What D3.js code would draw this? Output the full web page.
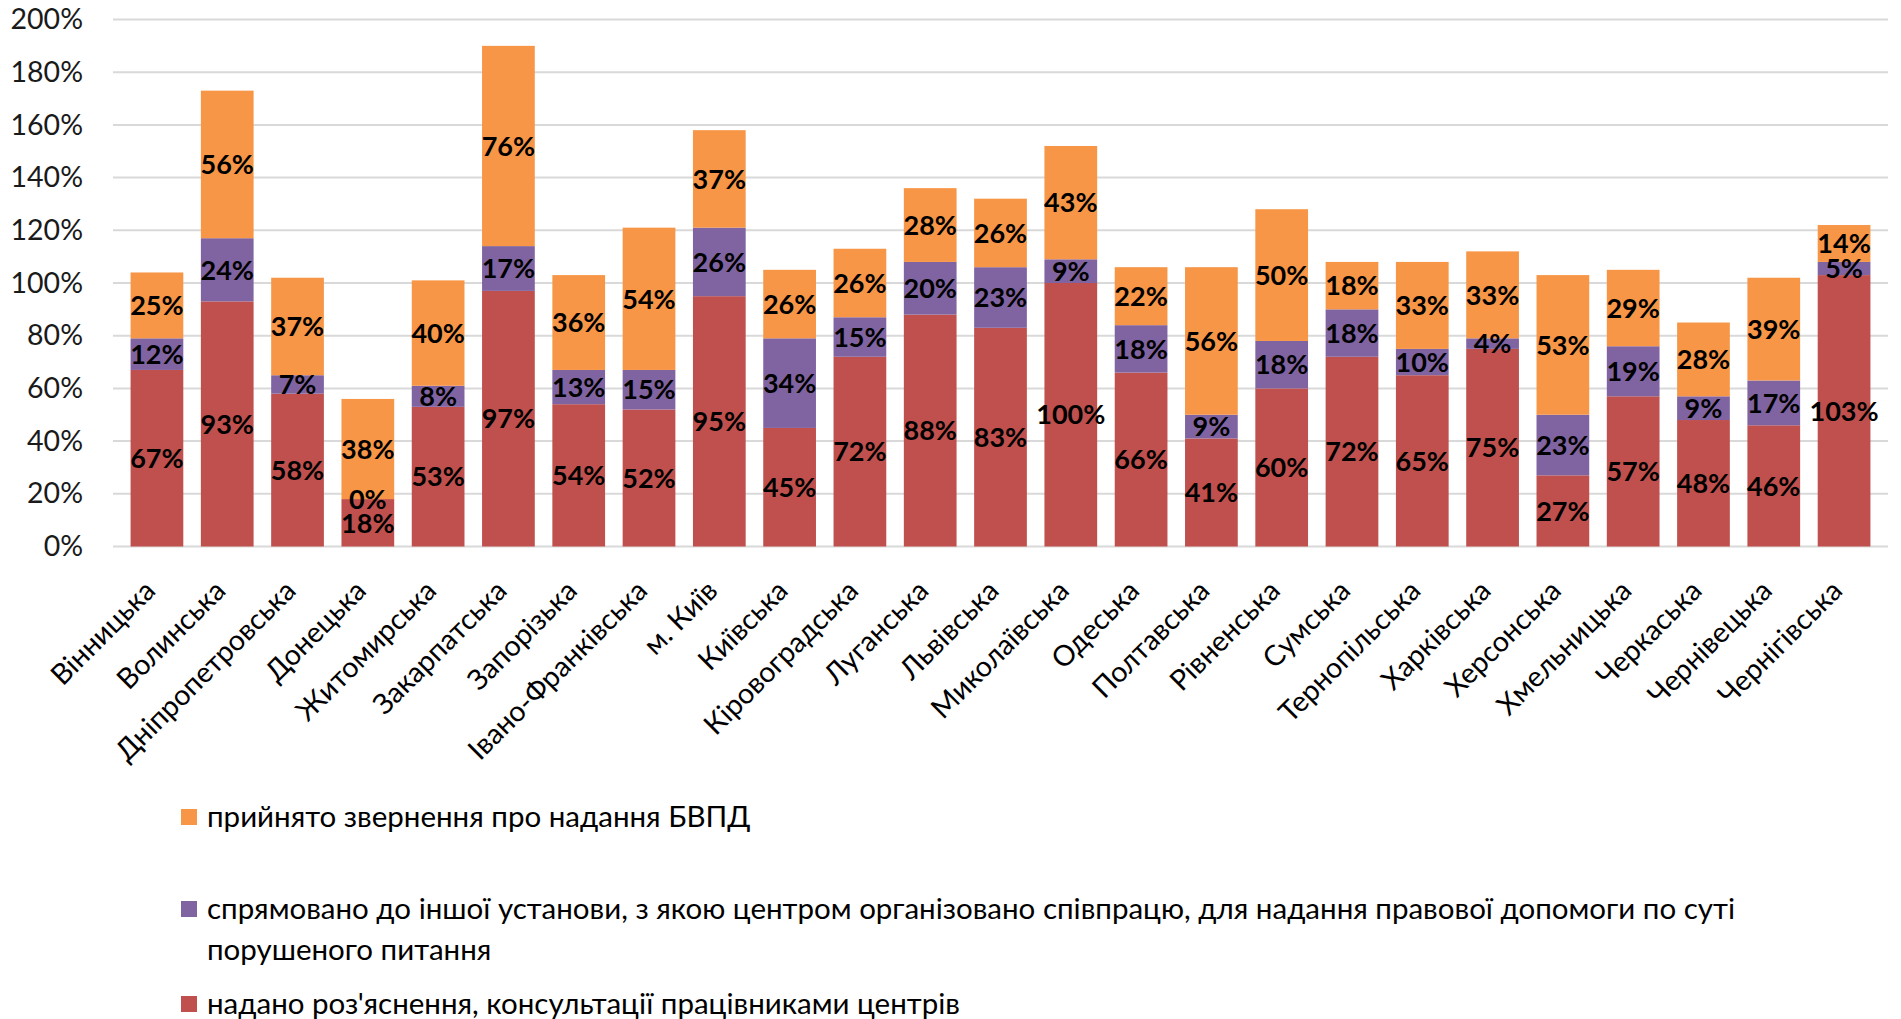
<!DOCTYPE html>
<html>
<head>
<meta charset="utf-8">
<script src="https://cdn.jsdelivr.net/npm/d3@7"></script>
<style>
  body { margin: 0; background: #fff; }
  svg { display: block; font-family: Lato, "Open Sans", sans-serif; }
</style>
</head>
<body>
<div id="chart"></div>
<script>
// regions
const regions = ['Вінницька', 'Волинська', 'Дніпропетровська', 'Донецька', 'Житомирська',
  'Закарпатська', 'Запорізька', 'Івано-Франківська', 'м. Київ', 'Київська', 'Кіровоградська',
  'Луганська', 'Львівська', 'Миколаївська', 'Одеська', 'Полтавська', 'Рівненська', 'Сумська',
  'Тернопільська', 'Харківська', 'Херсонська', 'Хмельницька', 'Черкаська', 'Чернівецька', 'Чернігівська'];

// series values, %
const consulted = [67, 93, 58, 18, 53, 97, 54, 52, 95, 45, 72, 88, 83, 100, 66, 41, 60, 72, 65, 75, 27, 57, 48, 46, 103];
const redirected = [12, 24, 7, 0, 8, 17, 13, 15, 26, 34, 15, 20, 23, 9, 18, 9, 18, 18, 10, 4, 23, 19, 9, 17, 5];
const accepted = [25, 56, 37, 38, 40, 76, 36, 54, 37, 26, 26, 28, 26, 43, 22, 56, 50, 18, 33, 33, 53, 29, 28, 39, 14];

const yTicks = [0, 20, 40, 60, 80, 100, 120, 140, 160, 180, 200];

const seriesNames = [
  'надано роз\'яснення, консультації працівниками центрів',
  'спрямовано до іншої установи, з якою центром організовано співпрацю, для надання правової допомоги по суті порушеного питання',
  'прийнято звернення про надання БВПД'
];
const colors = ['#C0504D', '#8064A2', '#F79646'];

const W = 1901, H = 1019;
const plotLeft = 113, plotRight = 1888, plotTop = 19.5, plotBottom = 546.5;

const svg = d3.select('#chart').append('svg')
  .attr('width', W)
  .attr('height', H);

const x = d3.scaleBand()
  .domain(regions)
  .range([plotLeft, plotRight])
  .padding(0.25);

const y = d3.scaleLinear()
  .domain([0, 200])
  .range([plotBottom, plotTop]);

// gridlines
svg.append('g')
  .selectAll('line')
  .data(yTicks)
  .enter().append('line')
  .attr('x1', plotLeft)
  .attr('x2', plotRight)
  .attr('y1', d => y(d))
  .attr('y2', d => y(d))
  .attr('stroke', '#D9D9D9')
  .attr('stroke-width', 2);

// y axis labels
const yAxis = svg.append('g')
  .attr('transform', 'translate(' + (plotLeft - 30) + ',0)')
  .call(d3.axisLeft(y).tickValues(yTicks).tickSize(0).tickFormat(d => d + '%'));
yAxis.select('.domain').remove();
yAxis.selectAll('text')
  .attr('font-size', '28.5px')
  .attr('font-family', 'Lato, sans-serif')
  .attr('fill', '#1a1a1a')
  .attr('x', 0);

// stack the data
const rows = regions.map((r, i) => ({ region: r, s0: consulted[i], s1: redirected[i], s2: accepted[i] }));
const stack = d3.stack().keys(['s0', 's1', 's2']);
const layers = stack(rows);

const layerG = svg.append('g')
  .selectAll('g')
  .data(layers)
  .enter().append('g')
  .attr('fill', (d, i) => colors[i]);

layerG.selectAll('rect')
  .data(d => d)
  .enter().append('rect')
  .attr('x', d => x(d.data.region))
  .attr('y', d => y(d[1]))
  .attr('width', x.bandwidth())
  .attr('height', d => y(d[0]) - y(d[1]));

// values on bars
const labelG = svg.append('g');
layers.forEach(layer => {
  labelG.selectAll(null)
    .data(layer)
    .enter().append('text')
    .attr('x', d => x(d.data.region) + x.bandwidth() / 2)
    .attr('y', d => y((d[0] + d[1]) / 2))
    .attr('dy', '0.36em')
    .attr('text-anchor', 'middle')
    .attr('font-size', '27px')
    .attr('font-weight', 'bold')
    .attr('fill', '#000')
    .text(d => (d[1] - d[0]) + '%');
});

// category labels
svg.append('g')
  .selectAll('text')
  .data(regions)
  .enter().append('text')
  .attr('transform', d => 'translate(' + (x(d) + x.bandwidth() / 2) + ',' + (plotBottom + 46) + ') rotate(-45)')
  .attr('text-anchor', 'end')
  .attr('font-size', '28.5px')
  .attr('fill', '#000')
  .text(d => d);

// legend
const legendRows = [
  { c: colors[2], y: 817, lines: [seriesNames[2]] },
  { c: colors[1], y: 909, lines: ['спрямовано до іншої установи, з якою центром організовано співпрацю, для надання правової допомоги по суті', 'порушеного питання'] },
  { c: colors[0], y: 1004, lines: [seriesNames[0]] }
];
const legend = svg.append('g');
legendRows.forEach(r => {
  legend.append('rect')
    .attr('x', 181)
    .attr('y', r.y - 8)
    .attr('width', 16)
    .attr('height', 16)
    .attr('fill', r.c);
  const t = legend.append('text')
    .attr('x', 207)
    .attr('y', r.y)
    .attr('font-size', '29.5px')
    .attr('fill', '#000');
  r.lines.forEach((l, i) => {
    t.append('tspan')
      .attr('x', 207)
      .attr('dy', i === 0 ? '0.35em' : '1.38em')
      .text(l);
  });
});
</script>
</body>
</html>
